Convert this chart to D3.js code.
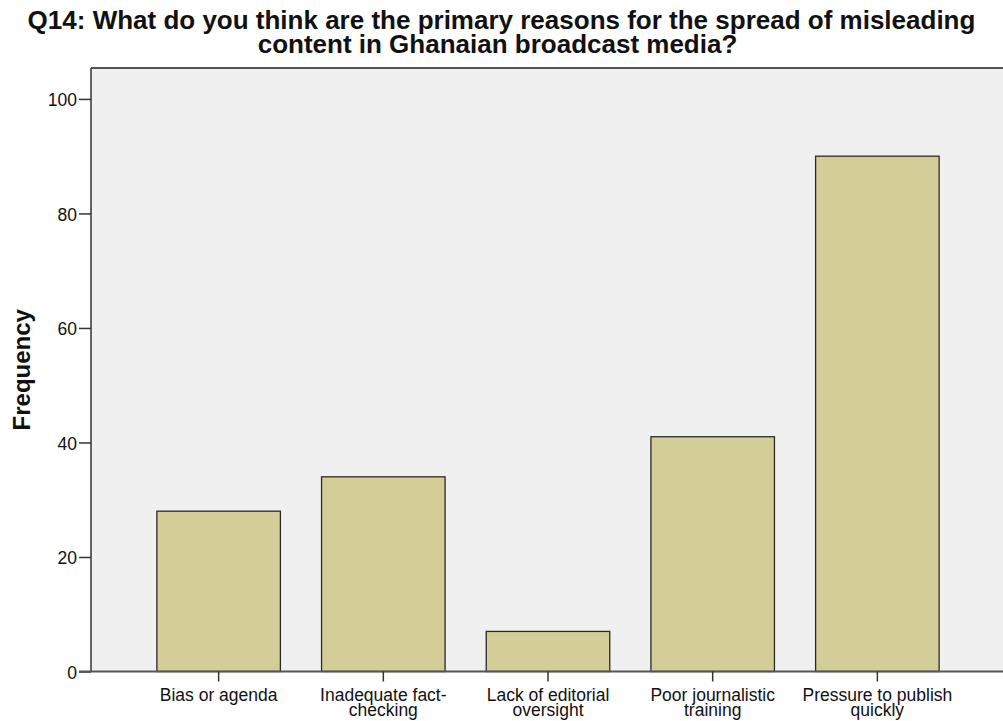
<!DOCTYPE html>
<html><head><meta charset="utf-8">
<script src="https://cdn.jsdelivr.net/npm/d3@7"></script>
<style>
html,body{margin:0;padding:0;background:#fff;}
text{font-family:"Liberation Sans",Arial,sans-serif;}
</style></head>
<body>
<script>
const categories = ["Bias or agenda","Inadequate fact-checking","Lack of editorial oversight","Poor journalistic training","Pressure to publish quickly"];
const categoryLines = [["Bias or agenda"],["Inadequate fact-","checking"],["Lack of editorial","oversight"],["Poor journalistic","training"],["Pressure to publish","quickly"]];
const frequencies = [28, 34, 7, 41, 90];
const yTicks = [0, 20, 40, 60, 80, 100];
const titleLines = ["Q14: What do you think are the primary reasons for the spread of misleading","content in Ghanaian broadcast media?"];
const yLabel = "Frequency";

const W = 1003, H = 721;
const pLeft = 91, pRight = 1005, pTop = 68, pBottom = 671.5;
const FONT = "'Liberation Sans',Arial,sans-serif";

const svg = d3.select("body").append("svg").attr("width", W).attr("height", H);

const x = d3.scaleBand().domain(categories).range([pLeft, pRight]).paddingInner(0.25).paddingOuter(0.4);
const y = d3.scaleLinear().domain([0, 105.4]).range([pBottom, pTop]);

// plot background
svg.append("rect").attr("x", pLeft).attr("y", pTop).attr("width", pRight - pLeft).attr("height", pBottom - pTop).attr("fill", "#f0f0f0");

// bars
svg.selectAll("rect.bar").data(frequencies).join("rect").attr("class","bar")
  .attr("x", (d,i) => x(categories[i]))
  .attr("y", d => y(d))
  .attr("width", x.bandwidth())
  .attr("height", d => pBottom - y(d))
  .attr("fill", "#d3ce97")
  .attr("stroke", "#2a2a2a")
  .attr("stroke-width", 1.3);

// frame line: top
svg.append("line").attr("x1", pLeft).attr("x2", W).attr("y1", pTop).attr("y2", pTop).attr("stroke", "#555").attr("stroke-width", 2);

// y axis
const yAxis = d3.axisLeft(y).tickValues(yTicks).tickSize(12).tickPadding(2).tickFormat(d3.format("d"));
const ga = svg.append("g").attr("transform", `translate(${pLeft},0)`).call(yAxis);
ga.select(".domain").attr("stroke", "#333").attr("stroke-width", 1.5).attr("d", `M0,${pTop}V${pBottom}`);
ga.selectAll(".tick line").attr("stroke", "#333").attr("stroke-width", 1.5);
ga.selectAll(".tick text").attr("font-size", 17.5).attr("fill", "#111").attr("dy", "0.4em").style("font-family", FONT);

// x axis
const xAxis = d3.axisBottom(x).tickSize(10).tickFormat(() => "");
const gx = svg.append("g").attr("transform", `translate(0,${pBottom})`).call(xAxis);
gx.select(".domain").attr("stroke", "#555").attr("stroke-width", 2).attr("d", `M${pLeft-12},0H${W}`);
gx.selectAll(".tick line").attr("stroke", "#333").attr("stroke-width", 1.5);
gx.selectAll(".tick").each(function(d, i) {
  const t = d3.select(this).append("text").attr("fill", "#111").attr("font-size", 17.5).attr("text-anchor", "middle")
    .style("font-family", FONT);
  categoryLines[i].forEach((ln, j) => {
    t.append("tspan").attr("x", 0).attr("y", 29 + j * 15.5).text(ln);
  });
});

// y label
svg.append("text").attr("transform", `translate(29.5,${(pTop+pBottom)/2}) rotate(-90)`)
  .attr("text-anchor", "middle").attr("font-size", 24).attr("font-weight", "bold").attr("fill", "#111").text(yLabel);

// title
const titleY = [28.5, 52.5];
const titleX = [501.5, 497.5];
titleLines.forEach((ln, j) => {
  svg.append("text").attr("x", titleX[j]).attr("y", titleY[j]).attr("text-anchor", "middle")
    .attr("font-size", 26).attr("font-weight", "bold").attr("fill", "#111").text(ln);
});
</script>
</body></html>
